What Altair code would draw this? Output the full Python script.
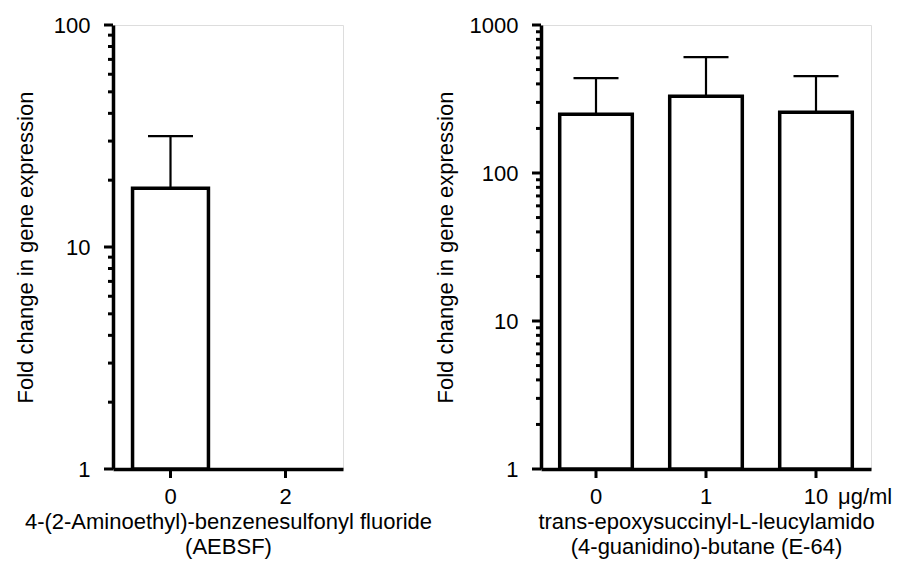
import altair as alt
import pandas as pd

# ---- data ----
aebsf_doses = ["0", "2"]
aebsf_mean = [18.4, None]
aebsf_upper = [31.6, None]

e64_doses = ["0", "1", "10"]
e64_mean = [249, 330, 257]
e64_upper = [437, 606, 451]

left_major = [1, 10, 100]
left_minor = [2, 3, 4, 5, 6, 7, 8, 9, 20, 30, 40, 50, 60, 70, 80, 90]
right_major = [1, 10, 100, 1000]
right_minor = [2, 3, 4, 5, 6, 7, 8, 9, 20, 30, 40, 50, 60, 70, 80, 90,
               200, 300, 400, 500, 600, 700, 800, 900]

ytitle = "Fold change in gene expression"
left_xtitle = ["4-(2-Aminoethyl)-benzenesulfonyl fluoride", "(AEBSF)"]
right_xtitle = ["trans-epoxysuccinyl-L-leucylamido", "(4-guanidino)-butane (E-64)"]
unit_label = "\u03bcg/ml"

FONT = "Liberation Sans"
FS = 22
H = 444


def panel(doses, mean, upper, ymax, major, minor, width, xtitle, ytitle_pad, unit=None):
    df = pd.DataFrame({"dose": doses, "mean": mean, "upper": upper})
    xaxis = alt.Axis(
        title=xtitle, labelAngle=0, labelFontSize=FS, titleFontSize=FS,
        labelFont=FONT, titleFont=FONT, titleFontWeight="normal",
        labelColor="black", titleColor="black",
        domainColor="black", domainWidth=3.5,
        ticks=False, tickSize=0,
        labelPadding=17, titlePadding=4, titleLineHeight=25,
    )
    xenc = alt.X("dose:N", sort=doses,
                 scale=alt.Scale(domain=doses, paddingInner=0.34, paddingOuter=0.17),
                 axis=xaxis)
    yscale = alt.Scale(type="log", domain=[1, ymax], nice=False)
    yaxis = alt.Axis(
        title=ytitle, values=major, format="d",
        ticks=False, tickSize=0,
        domainColor="black", domainWidth=3.5,
        labelFontSize=FS, titleFontSize=FS, labelFont=FONT, titleFont=FONT,
        titleFontWeight="normal", labelColor="black", titleColor="black",
        labelPadding=23, titlePadding=ytitle_pad, grid=False,
    )
    base = alt.Chart(df).encode(x=xenc)
    bars = base.mark_bar(fill="white", stroke="black", strokeWidth=3.5).encode(
        y=alt.Y("mean:Q", scale=yscale, axis=yaxis),
        y2=alt.datum(1),
    )
    rule = base.mark_rule(color="black", strokeWidth=2.2).encode(
        y=alt.Y("mean:Q", scale=yscale, axis=yaxis),
        y2="upper:Q",
    )
    cap = base.mark_tick(color="black", size=45, thickness=2.2, opacity=1).encode(
        y=alt.Y("upper:Q", scale=yscale, axis=yaxis),
    )
    xticks = base.mark_tick(color="black", orient="vertical", size=9, thickness=3, opacity=1).encode(
        y=alt.value(H + 4.5)
    )
    major_ticks = alt.Chart(pd.DataFrame({"v": major})).mark_tick(
        color="black", orient="horizontal", size=9, thickness=3, opacity=1
    ).encode(y=alt.Y("v:Q", scale=yscale, axis=yaxis), x=alt.value(-4.5))
    minor_ticks = alt.Chart(pd.DataFrame({"v": minor})).mark_tick(
        color="black", orient="horizontal", size=5, thickness=3, opacity=1
    ).encode(y=alt.Y("v:Q", scale=yscale, axis=yaxis), x=alt.value(-2.5))
    layers = [bars, rule, cap, xticks, major_ticks, minor_ticks]
    if unit:
        txt = alt.Chart(pd.DataFrame({"u": [unit]})).mark_text(
            align="left", baseline="middle", fontSize=FS, font=FONT, color="black", dx=22
        ).encode(x=alt.datum(doses[-1]), y=alt.value(H + 28), text="u:N")
        layers.append(txt)
    return alt.layer(*layers).properties(width=width, height=H)


left = panel(aebsf_doses, aebsf_mean, aebsf_upper, 100, left_major, left_minor,
             230, left_xtitle, 16)
right = panel(e64_doses, e64_mean, e64_upper, 1000, right_major, right_minor,
              330, right_xtitle, 12, unit_label)

chart = alt.hconcat(left, right, spacing=0)

chart.save("out.html", embed_options={"renderer": "svg", "actions": False})
